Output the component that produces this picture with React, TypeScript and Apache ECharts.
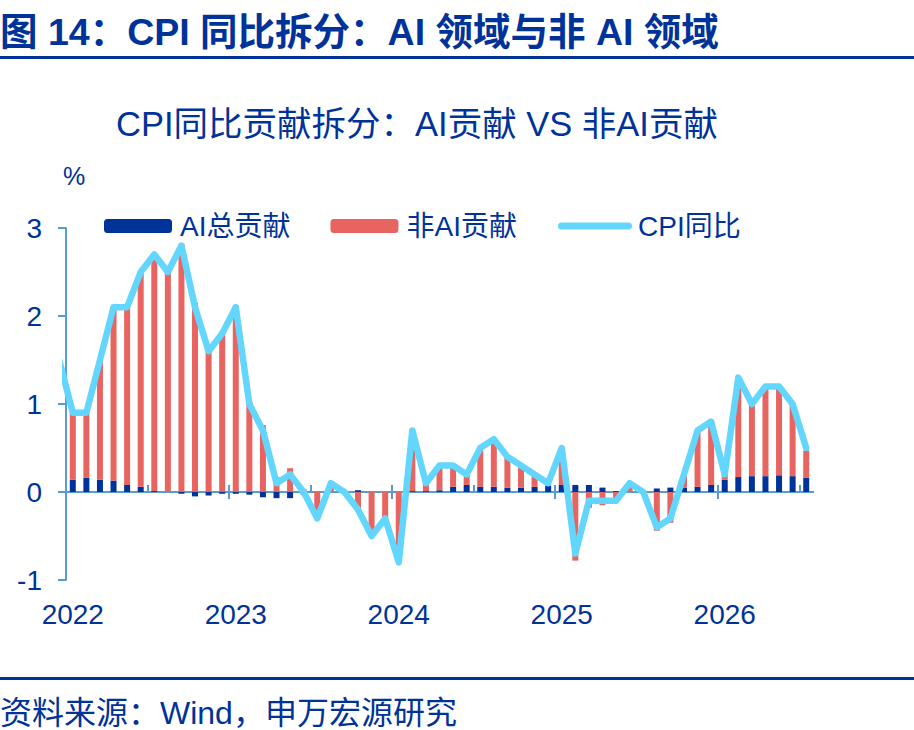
import { useEffect, useRef } from 'react';
import * as echarts from 'echarts';

// 年份标签（每年 1 月显示）
const yearLabels = ['2022', '2023', '2024', '2025', '2026'];
const monthCount = 55; // 2022-01 ~ 2026-07

// 刻度位置（以月份边界计）：半年刻度向上，年刻度向下
const halfYearTicks = [6, 12, 18, 24, 30, 36, 42, 48, 54];
const yearTicks = [12, 24, 36, 48];

// CPI 同比（%）
const cpi = [
  0.9, 0.9, 1.5, 2.1, 2.1, 2.5, 2.7, 2.5, 2.8, 2.1, 1.6, 1.8,
  2.1, 1.0, 0.7, 0.1, 0.2, 0.0, -0.3, 0.1, 0.0, -0.2, -0.5, -0.3,
  -0.8, 0.7, 0.1, 0.3, 0.3, 0.2, 0.5, 0.6, 0.4, 0.3, 0.2, 0.1,
  0.5, -0.7, -0.1, -0.1, -0.1, 0.1, 0.0, -0.4, -0.3, 0.2, 0.7, 0.8,
  0.2, 1.3, 1.0, 1.2, 1.2, 1.0, 0.5,
];
// 2021-12 的 CPI，线条从坐标轴左边缘切入
const cpiPrev = 1.5;

// AI 总贡献（百分点）
const aiContrib = [
  0.14, 0.16, 0.14, 0.13, 0.08, 0.06, 0.01, 0.0, -0.02, -0.05, -0.04, -0.02,
  -0.02, -0.03, -0.06, -0.07, -0.07, -0.03, 0.0, 0.0, 0.0, 0.02, 0.0, 0.0,
  0.0, 0.01, 0.01, 0.02, 0.06, 0.08, 0.06, 0.06, 0.05, 0.05, 0.06, 0.07,
  0.08, 0.08, 0.08, 0.05, 0.01, 0.0, 0.0, 0.04, 0.05, 0.05, 0.06, 0.08,
  0.14, 0.17, 0.18, 0.18, 0.19, 0.18, 0.16,
];

// 非 AI 贡献（百分点）
const nonAiContrib = [
  0.76, 0.74, 1.36, 1.97, 2.02, 2.44, 2.69, 2.5, 2.82, 2.15, 1.64, 1.82,
  2.12, 1.03, 0.76, 0.17, 0.27, 0.03, -0.3, 0.1, 0.0, -0.22, -0.5, -0.3,
  -0.8, 0.69, 0.09, 0.28, 0.24, 0.12, 0.44, 0.54, 0.35, 0.25, 0.14, 0.03,
  0.42, -0.78, -0.18, -0.15, -0.11, 0.1, 0.0, -0.44, -0.35, 0.15, 0.64, 0.72,
  0.06, 1.13, 0.82, 1.02, 1.01, 0.82, 0.31,
];

const BLUE = '#003399';
const RED = '#e86461';
const CYAN = '#63d6fe';
const AXIS = '#5b9bd5';
const FONT = '"Liberation Sans", Arial, "Noto Sans CJK SC", sans-serif';

const categories: string[] = [];
yearLabels.forEach((y) => {
  for (let m = 1; m <= 12; m++) {
    if (categories.length < monthCount) categories.push(`${y}-${String(m).padStart(2, '0')}`);
  }
});

export default function App() {
  const chartRef = useRef<HTMLDivElement>(null);

  useEffect(() => {
    document.body.style.margin = '0';
    if (!chartRef.current) return;
    const chart = echarts.init(chartRef.current, undefined, { renderer: 'svg' });

    const axisLine = { show: true, onZero: true, onZeroAxisIndex: 0, lineStyle: { color: AXIS, width: 2 } };

    chart.setOption({
      animation: false,
      textStyle: { fontFamily: FONT },
      title: [
        {
          text: '图 14：CPI 同比拆分：AI 领域与非 AI 领域',
          left: 0,
          top: 12,
          padding: 0,
          textStyle: { fontSize: 37.5, fontWeight: 'bold', color: BLUE, fontFamily: FONT, lineHeight: 40 },
        },
        {
          text: 'CPI同比贡献拆分：AI贡献 VS 非AI贡献',
          left: 417,
          top: 105,
          textAlign: 'center',
          padding: 0,
          textStyle: { fontSize: 34.5, fontWeight: 'normal', color: BLUE, fontFamily: FONT, lineHeight: 38 },
        },
        {
          text: '%',
          left: 63,
          top: 163,
          padding: 0,
          textStyle: { fontSize: 25, fontWeight: 'normal', color: BLUE, fontFamily: FONT, lineHeight: 26 },
        },
        {
          text: '资料来源：Wind，申万宏源研究',
          left: 0,
          top: 696,
          padding: 0,
          textStyle: { fontSize: 32, fontWeight: 'normal', color: BLUE, fontFamily: FONT, lineHeight: 34 },
        },
      ],
      graphic: [
        { type: 'rect', shape: { x: 0, y: 56, width: 914, height: 3 }, style: { fill: BLUE } },
        { type: 'rect', shape: { x: 0, y: 677, width: 914, height: 3 }, style: { fill: BLUE } },
      ],
      legend: [
        {
          data: ['AI总贡献', '非AI贡献'],
          left: 104,
          top: 212,
          padding: 0,
          itemWidth: 68,
          itemHeight: 14,
          itemGap: 40,
          textStyle: { fontSize: 28, color: BLUE, fontFamily: FONT, padding: [0, 0, 0, 3] },
        },
        {
          data: [
            {
              name: 'CPI同比',
              icon: 'path://M3.5,0 L70.5,0 A3.5,3.5 0 0 1 70.5,7 L3.5,7 A3.5,3.5 0 0 1 3.5,0 Z',
            },
          ],
          left: 558,
          top: 212,
          padding: 0,
          itemWidth: 74,
          itemHeight: 7,
          textStyle: { fontSize: 28, color: BLUE, fontFamily: FONT, padding: [0, 0, 0, 1] },
        },
      ],
      grid: { left: 66, right: 101, top: 228, bottom: 150, outerBoundsMode: 'none' },
      xAxis: [
        {
          // 柱子所用类目轴
          type: 'category',
          data: categories,
          boundaryGap: true,
          position: 'bottom',
          axisLine: { show: false, onZero: false },
          axisTick: { show: false },
          axisLabel: { show: false },
          splitLine: { show: false },
        },
        {
          // 零轴 + 半年刻度（向上），折线也画在这条轴上
          type: 'value',
          min: 0,
          max: monthCount,
          position: 'bottom',
          axisLine,
          axisTick: {
            show: true,
            customValues: halfYearTicks,
            inside: true,
            length: 7,
            lineStyle: { color: AXIS, width: 2 },
          },
          axisLabel: { show: false },
          splitLine: { show: false },
        },
        {
          // 年刻度（向下）
          type: 'value',
          min: 0,
          max: monthCount,
          position: 'bottom',
          axisLine,
          axisTick: {
            show: true,
            customValues: yearTicks,
            inside: false,
            length: 7,
            lineStyle: { color: AXIS, width: 2 },
          },
          axisLabel: { show: false },
          splitLine: { show: false },
        },
        {
          // 底部年份标签
          type: 'category',
          data: categories,
          boundaryGap: true,
          position: 'bottom',
          axisLine: { show: false, onZero: false },
          axisTick: { show: false },
          axisLabel: {
            show: true,
            interval: (i: number) => i % 12 === 0,
            formatter: (v: string) => v.slice(0, 4),
            fontSize: 28,
            color: BLUE,
            fontFamily: FONT,
            margin: 20,
          },
          splitLine: { show: false },
        },
      ],
      yAxis: {
        type: 'value',
        min: -1,
        max: 3,
        interval: 1,
        axisLine: { show: true, onZero: false, lineStyle: { color: AXIS, width: 2 } },
        axisTick: { show: true, inside: false, length: 8, lineStyle: { color: AXIS, width: 2 } },
        axisLabel: { fontSize: 28, color: BLUE, fontFamily: FONT, margin: 24 },
        splitLine: { show: false },
      },
      series: [
        {
          name: 'AI总贡献',
          type: 'bar',
          stack: 'total',
          xAxisIndex: 0,
          barWidth: 6,
          itemStyle: { color: BLUE },
          data: aiContrib,
        },
        {
          name: '非AI贡献',
          type: 'bar',
          stack: 'total',
          xAxisIndex: 0,
          barWidth: 6,
          itemStyle: { color: RED },
          data: nonAiContrib,
        },
        {
          name: 'CPI同比',
          type: 'line',
          xAxisIndex: 1,
          symbol: 'none',
          clip: true,
          z: 5,
          itemStyle: { color: CYAN },
          lineStyle: { color: CYAN, width: 6.5, cap: 'round', join: 'round' },
          data: [[-0.5, cpiPrev], ...cpi.map((v, i) => [i + 0.5, v])],
        },
      ],
    });

    return () => {
      chart.dispose();
    };
  }, []);

  return <div ref={chartRef} style={{ width: 914, height: 730 }} />;
}
